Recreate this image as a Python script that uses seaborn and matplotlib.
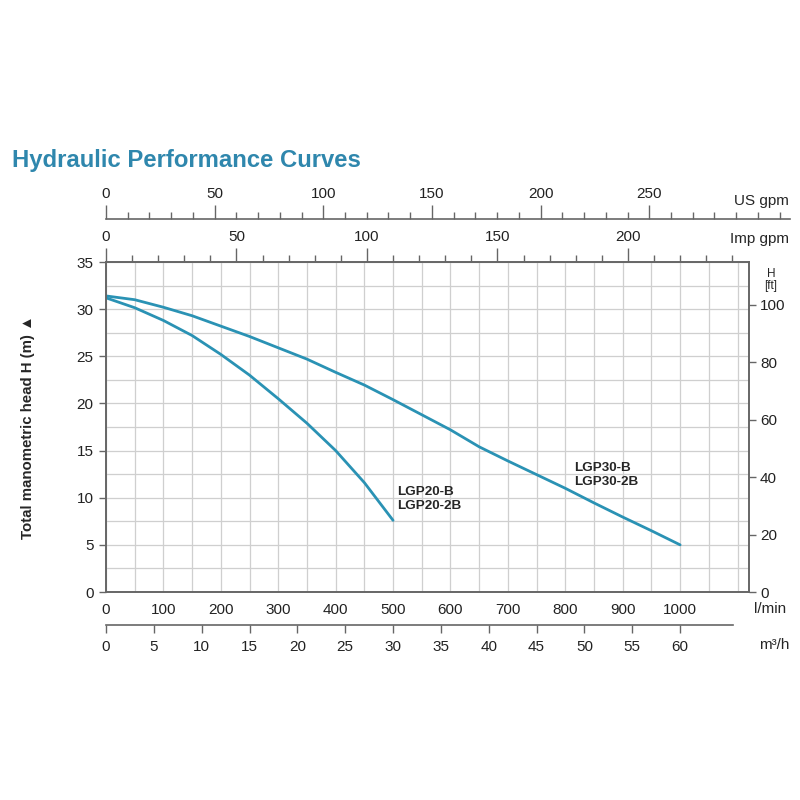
import numpy as np
import pandas as pd
import seaborn as sns
import matplotlib.pyplot as plt
from matplotlib.ticker import MultipleLocator

# flow in l/min, head in m
flow_lgp20 = [0, 50, 100, 150, 200, 250, 300, 350, 400, 450, 500]
head_lgp20 = [31.2, 30.15, 28.8, 27.2, 25.2, 23.0, 20.5, 17.9, 15.0, 11.6, 7.6]

flow_lgp30 = [0, 50, 100, 150, 200, 250, 300, 350, 400, 450, 500,
              550, 600, 650, 700, 750, 800, 850, 900, 950, 1000]
head_lgp30 = [31.4, 31.0, 30.2, 29.3, 28.2, 27.1, 25.9, 24.7, 23.3, 21.95, 20.4,
              18.8, 17.2, 15.4, 13.9, 12.45, 11.0, 9.45, 7.95, 6.5, 5.0]

labels_lgp20 = "LGP20-B\nLGP20-2B"
labels_lgp30 = "LGP30-B\nLGP30-2B"

lmin_ticks = [0, 100, 200, 300, 400, 500, 600, 700, 800, 900, 1000]
m3h_ticks = [0, 5, 10, 15, 20, 25, 30, 35, 40, 45, 50, 55, 60]
usgpm_ticks = [0, 50, 100, 150, 200, 250]
impgpm_ticks = [0, 50, 100, 150, 200]
ft_ticks = [0, 20, 40, 60, 80, 100]

LMIN_PER_USG = 3.785
LMIN_PER_IMP = 4.546
LMIN_PER_M3H = 1000 / 60
M_PER_FT = 0.3048

sns.set_theme(style="white")
plt.rcParams["font.family"] = ["Liberation Sans", "DejaVu Sans"]

curve_color = "#2a92b4"
title_color = "#2f87ad"
spine_color = "#666666"
grid_color = "#cfcfcf"

df = pd.concat([
    pd.DataFrame({"flow": flow_lgp20, "head": head_lgp20, "pump": "LGP20"}),
    pd.DataFrame({"flow": flow_lgp30, "head": head_lgp30, "pump": "LGP30"}),
])

fig = plt.figure(figsize=(8, 8), dpi=100)
xmax = 1120
px_per_lmin = 643 / xmax

ax = fig.add_axes([106 / 800, 208 / 800, 643 / 800, 330 / 800])
sns.lineplot(data=df, x="flow", y="head", units="pump", estimator=None,
             color=curve_color, linewidth=2, ax=ax, legend=False)
ax.set_xlim(0, xmax)
ax.set_ylim(0, 35)
ax.set_xlabel("")
ax.set_ylabel("Total manometric head H (m) ▲", fontsize=10.8, fontweight="bold",
              labelpad=30)
ax.set_xticks(lmin_ticks)
ax.xaxis.set_minor_locator(MultipleLocator(50))
ax.set_yticks(range(0, 36, 5))
ax.yaxis.set_minor_locator(MultipleLocator(2.5))
ax.grid(True, which="both", color=grid_color, linewidth=0.9)
ax.set_axisbelow(True)
ax.tick_params(axis="x", which="both", length=0, pad=8, labelsize=11, colors="#222222")
ax.tick_params(axis="y", which="major", length=5, width=1, pad=4, labelsize=11,
               color=spine_color, labelcolor="#222222", left=True)
ax.tick_params(axis="y", which="minor", length=0)
for s in ax.spines.values():
    s.set_color(spine_color)
    s.set_linewidth(1.4)

ax.text(507, 9.85, labels_lgp20, fontsize=9.7, fontweight="bold",
        va="center", ha="left", linespacing=1.15)
ax.text(815, 12.4, labels_lgp30, fontsize=9.7, fontweight="bold",
        va="center", ha="left", linespacing=1.15)

# right axis in feet
axr = ax.twinx()
axr.set_ylim(0, 35 / M_PER_FT)
axr.set_yticks(ft_ticks)
axr.tick_params(axis="y", length=5, width=1, pad=3, labelsize=11,
                color=spine_color, labelcolor="#222222", right=True)
axr.grid(False)
for s in axr.spines.values():
    s.set_visible(False)
ax.text(1.034, 0.945, "H\n[ft]", transform=ax.transAxes, ha="center", va="center",
        fontsize=8.5, linespacing=0.95)

# Imp gpm along top spine
sec = ax.secondary_xaxis("top", functions=(lambda x: x / LMIN_PER_IMP,
                                            lambda x: x * LMIN_PER_IMP))
sec.set_xticks(impgpm_ticks)
sec.xaxis.set_minor_locator(MultipleLocator(10))
sec.tick_params(which="major", length=10, width=1, pad=3, labelsize=11,
                color=spine_color, labelcolor="#222222")
sec.tick_params(which="minor", length=5, width=1, color=spine_color)
sec.spines["top"].set_visible(False)

# US gpm scale on its own line
us_width = 684
axu = fig.add_axes([106 / 800, (800 - 219) / 800, us_width / 800, 0.0001])
axu.set_xlim(0, us_width / px_per_lmin / LMIN_PER_USG)
axu.set_xticks(usgpm_ticks)
axu.xaxis.set_minor_locator(MultipleLocator(10))
axu.xaxis.set_ticks_position("top")
axu.xaxis.set_label_position("top")
axu.set_yticks([])
axu.tick_params(axis="x", which="major", length=10, width=1, pad=3, labelsize=11,
                color=spine_color, labelcolor="#222222", top=True, bottom=False)
axu.tick_params(axis="x", which="minor", length=5, width=1, color=spine_color,
                top=True, bottom=False)
for name, s in axu.spines.items():
    s.set_visible(name == "top")
axu.spines["top"].set_color(spine_color)
axu.spines["top"].set_linewidth(1.2)
axu.set_facecolor("none")

# m3/h scale below
m3h_max = 65.5
axm = fig.add_axes([106 / 800, (800 - 625) / 800,
                    m3h_max * LMIN_PER_M3H * px_per_lmin / 800, 0.0001])
axm.set_xlim(0, m3h_max)
axm.set_xticks(m3h_ticks)
axm.set_yticks([])
axm.tick_params(axis="x", length=6, width=1, pad=5, labelsize=11,
                color=spine_color, labelcolor="#222222", bottom=True)
for name, s in axm.spines.items():
    s.set_visible(name == "bottom")
axm.spines["bottom"].set_color(spine_color)
axm.spines["bottom"].set_linewidth(1.2)
axm.set_facecolor("none")

# unit labels
fig.text(789 / 800, 1 - 201 / 800, "US gpm", ha="right", va="center", fontsize=11)
fig.text(789 / 800, 1 - 239 / 800, "Imp gpm", ha="right", va="center", fontsize=11)
fig.text(770 / 800, 1 - 609 / 800, "l/min", ha="center", va="center", fontsize=11)
fig.text(774 / 800, 1 - 645 / 800, "m³/h", ha="center", va="center", fontsize=11)

fig.text(12 / 800, 1 - 160 / 800, "Hydraulic Performance Curves", ha="left",
         va="center", fontsize=17.2, fontweight="bold", color=title_color)

fig.savefig("out.png", dpi=100)
